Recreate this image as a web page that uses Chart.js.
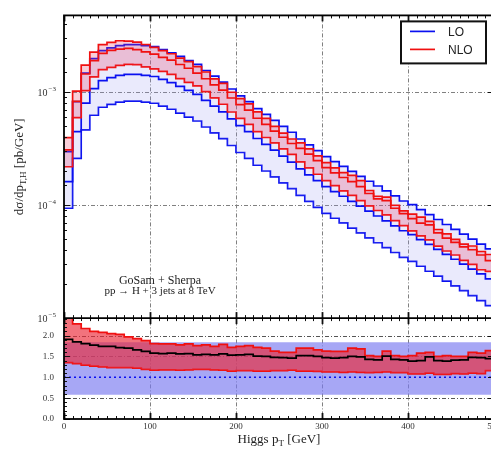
<!DOCTYPE html>
<html><head><meta charset="utf-8">
<script src="https://cdn.jsdelivr.net/npm/chart.js@4.4.1/dist/chart.umd.min.js"></script>
<style>html,body{margin:0;padding:0;overflow:hidden;background:#fff}#wrap{width:510px;height:450px;position:relative}</style>
</head><body><div id="wrap"><canvas id="c" width="510" height="450"></canvas></div>
<script>
// ---- data ----
const binEdges = [0,10,20,30,40,50,60,70,80,90,100,110,120,130,140,150,160,170,180,190,200,210,220,230,240,250,260,270,280,290,300,310,320,330,340,350,360,370,380,390,400,410,420,430,440,450,460,470,480,490,500];
const loCentral = [1.62e-4,4.49e-4,8.02e-4,1.08e-3,1.27e-3,1.35e-3,1.41e-3,1.44e-3,1.44e-3,1.41e-3,
1.38e-3,1.30e-3,1.22e-3,1.13e-3,1.04e-3,9.6e-4,8.5e-4,7.55e-4,6.7e-4,5.82e-4,
5.06e-4,4.49e-4,3.90e-4,3.46e-4,3.07e-4,2.72e-4,2.41e-4,2.10e-4,1.86e-4,1.65e-4,
1.46e-4,1.32e-4,1.20e-4,1.08e-4,9.8e-5,8.87e-5,8.02e-5,7.26e-5,6.57e-5,5.94e-5,
5.48e-5,4.96e-5,4.49e-5,4.06e-5,3.67e-5,3.32e-5,3.01e-5,2.72e-5,2.46e-5,2.23e-5];
const loUp = [2.98e-4,8.26e-4,1.476e-3,1.99e-3,2.34e-3,2.48e-3,2.59e-3,2.65e-3,2.65e-3,2.59e-3,
2.54e-3,2.39e-3,2.24e-3,2.08e-3,1.91e-3,1.77e-3,1.56e-3,1.39e-3,1.23e-3,1.07e-3,
9.31e-4,8.26e-4,7.18e-4,6.37e-4,5.65e-4,5.0e-4,4.43e-4,3.86e-4,3.42e-4,3.04e-4,
2.69e-4,2.43e-4,2.21e-4,1.99e-4,1.80e-4,1.63e-4,1.48e-4,1.34e-4,1.21e-4,1.09e-4,
1.01e-4,9.13e-5,8.26e-5,7.47e-5,6.75e-5,6.11e-5,5.54e-5,5.0e-5,4.53e-5,4.10e-5];
const loDown = [9.4e-5,2.60e-4,4.65e-4,6.26e-4,7.37e-4,7.83e-4,8.18e-4,8.35e-4,8.35e-4,8.18e-4,
8.0e-4,7.54e-4,7.08e-4,6.55e-4,6.03e-4,5.57e-4,4.93e-4,4.38e-4,3.89e-4,3.38e-4,
2.93e-4,2.60e-4,2.26e-4,2.01e-4,1.78e-4,1.58e-4,1.40e-4,1.22e-4,1.08e-4,9.57e-5,
8.47e-5,7.66e-5,6.96e-5,6.26e-5,5.68e-5,5.14e-5,4.65e-5,4.21e-5,3.81e-5,3.45e-5,
3.18e-5,2.88e-5,2.60e-5,2.35e-5,2.13e-5,1.93e-5,1.75e-5,1.58e-5,1.43e-5,1.29e-5];
const nloCentral = [3.09e-4,8.31e-4,1.452e-3,1.912e-3,2.210e-3,2.349e-3,2.411e-3,2.448e-3,2.390e-3,2.284e-3,
2.180e-3,2.041e-3,1.928e-3,1.763e-3,1.633e-3,1.478e-3,1.318e-3,1.163e-3,1.045e-3,8.90e-4,
7.79e-4,6.96e-4,5.89e-4,5.19e-4,4.54e-4,4.00e-4,3.52e-4,3.19e-4,2.83e-4,2.48e-4,
2.15e-4,1.93e-4,1.76e-4,1.62e-4,1.46e-4,1.27e-4,1.14e-4,1.10e-4,9.40e-5,8.43e-5,
7.62e-5,6.94e-5,6.69e-5,5.68e-5,5.10e-5,4.68e-5,4.27e-5,4.03e-5,3.62e-5,3.23e-5];
const nloUp = [3.97e-4,1.024e-3,1.740e-3,2.268e-3,2.642e-3,2.768e-3,2.862e-3,2.837e-3,2.779e-3,2.651e-3,
2.498e-3,2.340e-3,2.196e-3,2.011e-3,1.872e-3,1.690e-3,1.513e-3,1.314e-3,1.199e-3,1.001e-3,
8.80e-4,7.90e-4,6.71e-4,5.88e-4,5.00e-4,4.35e-4,3.86e-4,3.57e-4,3.16e-4,2.74e-4,
2.38e-4,2.14e-4,1.94e-4,1.84e-4,1.65e-4,1.35e-4,1.20e-4,1.18e-4,9.99e-5,8.91e-5,
8.33e-5,7.84e-5,7.18e-5,6.09e-5,5.58e-5,4.98e-5,4.52e-5,4.35e-5,3.89e-5,3.66e-5];
const nloDown = [2.19e-4,5.97e-4,1.035e-3,1.372e-3,1.588e-3,1.661e-3,1.734e-3,1.771e-3,1.757e-3,1.678e-3,
1.615e-3,1.534e-3,1.440e-3,1.322e-3,1.227e-3,1.142e-3,1.012e-3,8.91e-4,7.84e-4,6.69e-4,
5.87e-4,5.21e-4,4.49e-4,3.98e-4,3.56e-4,3.16e-4,2.82e-4,2.42e-4,2.14e-4,1.88e-4,
1.65e-4,1.49e-4,1.34e-4,1.22e-4,1.10e-4,9.85e-5,8.98e-5,8.20e-5,7.29e-5,6.59e-5,
5.92e-5,5.36e-5,4.94e-5,4.34e-5,3.93e-5,3.62e-5,3.25e-5,2.99e-5,2.68e-5,2.59e-5];
const ratioCentral = [1.91,1.85,1.81,1.77,1.74,1.74,1.71,1.70,1.66,1.62,
1.58,1.57,1.58,1.56,1.57,1.54,1.55,1.54,1.56,1.53,
1.54,1.55,1.51,1.50,1.48,1.47,1.46,1.52,1.52,1.50,
1.47,1.46,1.47,1.50,1.49,1.43,1.42,1.51,1.43,1.42,
1.39,1.40,1.49,1.40,1.39,1.41,1.42,1.48,1.47,1.45];
const ratioUp = [2.45,2.28,2.17,2.10,2.08,2.05,2.03,1.97,1.93,1.88,
1.81,1.80,1.80,1.78,1.80,1.76,1.78,1.74,1.79,1.72,
1.74,1.76,1.72,1.70,1.63,1.60,1.60,1.70,1.70,1.66,
1.63,1.62,1.62,1.70,1.68,1.52,1.50,1.63,1.52,1.50,
1.52,1.58,1.60,1.50,1.52,1.50,1.50,1.60,1.58,1.64];
const ratioDown = [1.35,1.33,1.29,1.27,1.25,1.23,1.23,1.23,1.22,1.19,
1.17,1.18,1.18,1.17,1.18,1.19,1.19,1.18,1.17,1.15,
1.16,1.16,1.15,1.15,1.16,1.16,1.17,1.15,1.15,1.14,
1.13,1.13,1.12,1.13,1.12,1.11,1.12,1.13,1.11,1.11,
1.08,1.08,1.10,1.07,1.07,1.09,1.08,1.10,1.09,1.16];
const ratioLoEdges = [0,500];
const ratioLoCentral = [1.0,1.0];
const ratioLoUp = [1.84,1.84];
const ratioLoDown = [0.58,0.58];
const legendLabels = ['LO','NLO'];
const xTickValues = [0,100,200,300,400,500];
const xGridValues = [100,200,300,400];
const mainGridValues = [1e-3,1e-4];
const ratioGridValues = [0.5,1.5,2.0];
const ratioTickValues = [0.0,0.5,1.0,1.5,2.0];
const annotationLines = ['GoSam + Sherpa','pp \u2192 H + 3 jets at 8 TeV'];

// ---- helpers ----
function hist(vals, edges){const p=vals.map((v,i)=>({x:edges[i],y:v}));p.push({x:edges[vals.length],y:vals[vals.length-1]});return p;}
const BLUE='#0a10f0', RED='#f01010';
function ds(label,data,yAxisID,color,extra){return Object.assign({label,data,yAxisID,borderColor:color,borderWidth:1.7,stepped:true,pointRadius:0,fill:false},extra||{});}

const datasets=[
 ds('NLO',hist(nloCentral,binEdges),'y',RED),
 ds('NLO up',hist(nloUp,binEdges),'y',RED,{fill:2,backgroundColor:'rgba(230,60,100,0.25)'}),
 ds('NLO down',hist(nloDown,binEdges),'y',RED),
 ds('LO',hist(loCentral,binEdges),'y',BLUE),
 ds('LO up',hist(loUp,binEdges),'y',BLUE,{fill:5,backgroundColor:'rgba(150,150,240,0.2)'}),
 ds('LO down',hist(loDown,binEdges),'y',BLUE),
 ds('NLO/LO',hist(ratioCentral,binEdges),'y2','#000'),
 ds('LO/LO',hist(ratioLoCentral.slice(0,1),ratioLoEdges),'y2',BLUE,{borderDash:[2,3],borderWidth:1.5}),
 ds('NLO/LO up',hist(ratioUp,binEdges),'y2',RED,{fill:9,backgroundColor:'rgba(235,40,55,0.65)'}),
 ds('NLO/LO down',hist(ratioDown,binEdges),'y2',RED),
 ds('LO/LO up',hist(ratioLoUp.slice(0,1),ratioLoEdges),'y2','rgba(0,0,0,0)',{borderWidth:0,fill:11,backgroundColor:'rgba(120,120,240,0.65)'}),
 ds('LO/LO down',hist(ratioLoDown.slice(0,1),ratioLoEdges),'y2','rgba(0,0,0,0)',{borderWidth:0})
];

function seg(ctx,x1,y1,x2,y2){ctx.beginPath();ctx.moveTo(x1,y1);ctx.lineTo(x2,y2);ctx.stroke();}
function partsWidth(ctx,parts,size){let w=0;for(const p of parts){ctx.font=(p.sub?Math.round(size*0.7):size)+'px "Liberation Serif"';w+=ctx.measureText(p.t).width;}return w;}
function drawParts(ctx,parts,cx,cy,size){const w=partsWidth(ctx,parts,size);let x=cx-w/2;ctx.textBaseline='middle';ctx.textAlign='left';for(const p of parts){ctx.font=(p.sub?Math.round(size*0.7):size)+'px "Liberation Serif"';ctx.fillText(p.t,x,p.sub?cy+size*0.3:cy);x+=ctx.measureText(p.t).width;}}

const decor={
 id:'decor',
 beforeDatasetsDraw(chart){
  const {ctx}=chart,xs=chart.scales.x,ym=chart.scales.y,yr=chart.scales.y2;
  ctx.save();ctx.lineWidth=1;ctx.strokeStyle='#808080';ctx.setLineDash([4,2,1,2]);
  xGridValues.forEach(v=>{const p=Math.round(xs.getPixelForValue(v))+0.5;seg(ctx,p,ym.top,p,yr.bottom);});
  mainGridValues.forEach(v=>{const p=Math.round(ym.getPixelForValue(v))+0.5;seg(ctx,xs.left,p,xs.right,p);});
  ctx.strokeStyle='#555';
  ratioGridValues.forEach(v=>{const p=Math.round(yr.getPixelForValue(v))+0.5;seg(ctx,xs.left,p,xs.right,p);});
  ctx.restore();
 },
 afterDatasetsDraw(chart){
  const {ctx}=chart,xs=chart.scales.x,ym=chart.scales.y,yr=chart.scales.y2;
  ctx.save();ctx.setLineDash([]);ctx.strokeStyle='#111';
  ctx.lineWidth=1;
  ym.ticks.forEach(t=>{const lg=Math.log10(t.value);const dec=Math.abs(lg-Math.round(lg))<1e-6;const p=Math.round(ym.getPixelForValue(t.value))+0.5;const L=dec?6:3;seg(ctx,xs.left,p,xs.left+L,p);seg(ctx,xs.right,p,xs.right-L,p);});
  for(let k=0;k<=24;k++){const v=k/10;const p=Math.round(yr.getPixelForValue(v))+0.5;const L=(k%5===0)?6:3;seg(ctx,xs.left,p,xs.left+L,p);seg(ctx,xs.right,p,xs.right-L,p);}
  for(let k=0;k<=50;k++){const v=k*10;const p=Math.round(xs.getPixelForValue(v))+0.5;const L=(k%10===0)?6:3;ctx.lineWidth=(k%10===0)?1.8:1;
   seg(ctx,p,yr.bottom,p,yr.bottom-L);seg(ctx,p,ym.bottom-L,p,ym.bottom+L);seg(ctx,p,ym.top,p,ym.top+L);}
  ctx.lineWidth=1.8;ctx.strokeStyle='#000';
  ctx.strokeRect(xs.left,ym.top,xs.right-xs.left,yr.bottom-ym.top);
  seg(ctx,xs.left,ym.bottom,xs.right,ym.bottom);
  ctx.fillStyle='#333';
  ym.ticks.forEach(t=>{const lg=Math.log10(t.value);if(Math.abs(lg-Math.round(lg))>1e-6)return;const p=ym.getPixelForValue(t.value);
   ctx.textBaseline='middle';ctx.textAlign='right';ctx.font='7px "Liberation Serif"';const e='\u2212'+Math.abs(Math.round(lg));const ew=ctx.measureText(e).width;ctx.fillText(e,xs.left-8,p-3);
   ctx.font='10px "Liberation Serif"';ctx.fillText('10',xs.left-9-ew,p+1);});
  const lx=xs.right-93,ly=ym.top+6,lw=85,lh=42;
  ctx.fillStyle='#fff';ctx.fillRect(lx,ly,lw,lh);ctx.lineWidth=2;ctx.strokeStyle='#111';ctx.strokeRect(lx,ly,lw,lh);
  [[legendLabels[0],BLUE,10],[legendLabels[1],RED,28]].forEach(([lab,col,dy])=>{ctx.strokeStyle=col;ctx.lineWidth=1.7;seg(ctx,lx+9,ly+dy,lx+34,ly+dy);
   ctx.fillStyle='#222';ctx.font='12px "Liberation Sans"';ctx.textAlign='left';ctx.textBaseline='middle';ctx.fillText(lab,lx+47,ly+dy+1);});
  ctx.fillStyle='#222';ctx.textAlign='center';ctx.textBaseline='middle';
  ctx.font='12px "Liberation Serif"';ctx.fillText(annotationLines[0],xs.left+96,ym.top+265);
  ctx.font='11px "Liberation Serif"';ctx.fillText(annotationLines[1],xs.left+96,ym.top+276);
  drawParts(ctx,[{t:'Higgs p'},{t:'T',sub:true},{t:' [GeV]'}],(xs.left+xs.right)/2,440,13);
  ctx.save();ctx.translate(20,(ym.top+ym.bottom)/2);ctx.rotate(-Math.PI/2);
  drawParts(ctx,[{t:'d\u03c3/dp'},{t:'T,H',sub:true},{t:' [pb/GeV]'}],0,0,13);ctx.restore();
  ctx.restore();
 }
};

new Chart(document.getElementById('c'),{
 type:'line',
 data:{datasets},
 options:{
  responsive:false,animation:false,
  layout:{padding:{top:9,right:16,left:0,bottom:0}},
  plugins:{legend:{display:false},tooltip:{enabled:false}},
  elements:{point:{radius:0},line:{tension:0}},
  scales:{
   x:{type:'linear',min:0,max:500,grid:{display:false,drawTicks:false,tickLength:0},border:{display:false},
      afterBuildTicks:s=>{s.ticks=xTickValues.map(v=>({value:v}));},
      ticks:{font:{family:'Liberation Serif',size:9},color:'#333',padding:2,maxRotation:0,autoSkip:false},
      afterFit:s=>{s.height=31;}},
   y:{type:'logarithmic',min:1e-5,max:4.8e-3,stack:'p',stackWeight:3,weight:1,position:'left',
      grid:{display:false,drawTicks:false,tickLength:0},border:{display:false},
      ticks:{display:true,font:{size:1},color:'rgba(0,0,0,0)',autoSkip:false,callback:()=>''},
      afterFit:s=>{s.width=64;}},
   y2:{type:'linear',min:0,max:2.42,stack:'p',stackWeight:1,weight:0,position:'left',
      grid:{display:false,drawTicks:false,tickLength:0},border:{display:false},
      afterBuildTicks:s=>{s.ticks=ratioTickValues.map(v=>({value:v}));},
      ticks:{font:{family:'Liberation Serif',size:9},color:'#333',padding:10,autoSkip:false,callback:v=>v.toFixed(1)},
      afterFit:s=>{s.width=64;}}
  }
 },
 plugins:[decor]
});
</script></body></html>
